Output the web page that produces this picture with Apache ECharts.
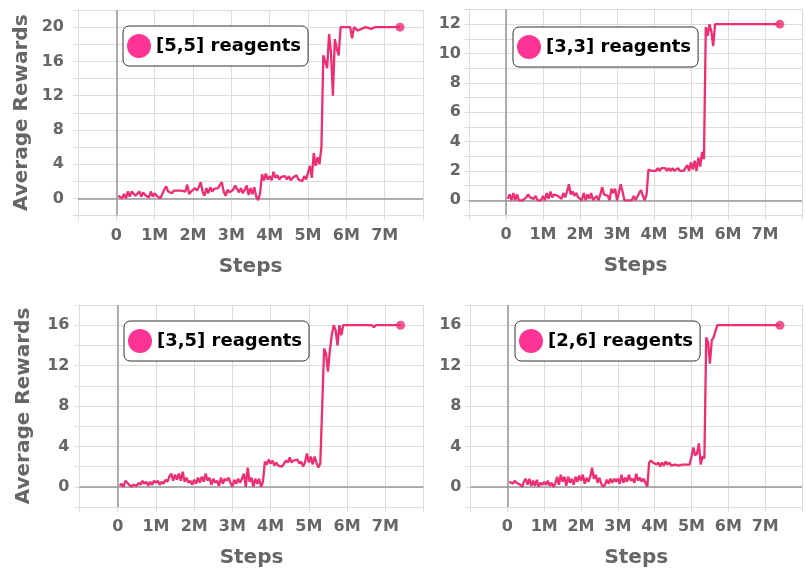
<!DOCTYPE html>
<html>
<head>
<meta charset="utf-8">
<script src="https://cdn.jsdelivr.net/npm/echarts@6/dist/echarts.min.js"></script>
<style>
html,body{margin:0;padding:0;background:#fff;}
#chart{width:805px;height:569px;}
</style>
</head>
<body>
<div id="chart"></div>
<script>
// Steps in millions (shared by all four runs)
var stepsM = [
  0.05,0.10,0.15,0.20,0.25,0.30,0.35,0.40,0.45,0.50,
  0.55,0.60,0.65,0.70,0.75,0.80,0.85,0.90,0.95,1.00,
  1.05,1.10,1.15,1.20,1.25,1.30,1.35,1.40,1.45,1.50,
  1.55,1.60,1.65,1.70,1.75,1.80,1.85,1.90,1.95,2.00,
  2.05,2.10,2.15,2.20,2.25,2.30,2.35,2.40,2.45,2.50,
  2.55,2.60,2.65,2.70,2.75,2.80,2.85,2.90,2.95,3.00,
  3.05,3.10,3.15,3.20,3.25,3.30,3.35,3.40,3.45,3.50,
  3.55,3.60,3.65,3.70,3.75,3.80,3.85,3.90,3.95,4.00,
  4.05,4.10,4.15,4.20,4.25,4.30,4.35,4.40,4.45,4.50,
  4.55,4.60,4.65,4.70,4.75,4.80,4.85,4.90,4.95,5.00,
  5.05,5.10,5.15,5.20,5.25,5.30,5.35,5.40,5.45,5.50,
  5.55,5.60,5.65,5.70,5.75,5.80,5.85,
  5.90,6.00,6.10,6.15,6.20,6.30,6.50,6.65,6.70,6.75,7.00,7.40
];

var rewards55 = [
  0.3,0.2,0.0,0.5,0.0,0.8,0.2,0.8,0.6,0.3,
  0.4,0.8,0.2,0.7,0.4,0.5,0.1,0.8,0.2,0.6,
  0.3,0.5,0.0,0.5,1.0,1.4,0.8,1.0,0.6,0.9,
  0.8,0.9,1.0,0.9,1.1,0.8,1.6,0.5,0.8,1.0,
  1.2,0.9,1.3,1.9,0.8,0.3,1.2,0.6,1.3,0.8,
  1.1,0.9,1.2,1.4,1.9,0.8,0.3,1.0,0.7,0.9,
  1.0,1.5,1.7,0.7,1.2,0.6,1.0,1.5,0.4,1.2,
  0.5,1.3,0.2,-0.2,0.6,2.8,2.1,2.9,2.2,2.6,
  2.1,3.1,2.4,2.7,2.2,2.5,2.4,2.6,2.2,2.6,
  2.1,2.4,2.2,2.7,2.2,2.4,2.0,2.6,2.2,2.4,
  3.8,2.4,5.3,3.8,4.8,4.0,6.0,16.7,16.0,15.2,
  19.2,17.0,12.0,18.6,17.5,16.7,20.0,
  20,20,20,18.7,20,19.6,20,19.8,20,20,20,20
];

var rewards33 = [
  0.1,0.4,0.0,0.5,0.0,0.4,0.0,0.0,0.0,0.0,
  0.2,0.4,0.2,0.3,0.1,0.3,0.0,0.1,0.0,0.3,
  0.0,0.5,0.1,0.6,0.2,0.4,0.4,0.3,0.4,0.1,
  0.5,0.2,0.6,1.1,0.4,0.6,0.3,0.5,0.2,0.3,
  0.0,0.5,0.0,0.4,0.1,0.5,0.0,0.1,0.3,0.0,
  0.4,0.9,0.4,0.4,0.3,0.0,0.8,0.5,0.8,0.0,
  0.5,1.1,0.6,0.0,0.1,0.0,0.1,0.0,0.3,0.0,
  0.0,0.5,0.7,0.3,0.0,0.4,2.1,2.0,2.0,2.0,
  2.0,2.2,2.0,2.2,2.1,2.2,2.0,2.2,2.0,2.2,
  2.0,2.0,2.2,2.0,2.0,2.0,2.0,2.4,2.0,2.6,
  2.1,2.7,2.0,2.9,2.3,3.3,2.8,11.8,11.2,12.0,
  11.5,10.5,12.0,12.0,12.0,12.0,12.0,
  12,12,12,12,12,12,12,12,12,12,12,12
];

var rewards35 = [
  0.1,0.3,0.0,0.6,0.4,0.2,0.0,0.2,0.2,0.1,
  0.4,0.2,0.6,0.3,0.5,0.1,0.5,0.2,0.6,0.4,
  0.6,0.2,0.5,0.3,0.7,0.5,1.0,1.3,0.6,1.2,
  0.7,1.3,0.6,1.5,0.5,0.9,0.4,0.6,0.2,0.7,
  0.3,0.9,0.4,1.0,0.5,1.3,0.6,0.9,0.2,0.8,
  0.4,0.6,0.1,0.9,0.3,0.8,0.6,0.9,0.4,0.0,
  0.7,0.3,0.8,0.4,0.8,1.3,0.0,1.9,0.5,0.9,
  0.0,0.8,0.3,0.8,0.0,0.5,2.5,2.2,2.7,2.3,
  2.6,2.1,2.4,2.1,2.2,2.0,2.3,2.6,2.4,2.9,
  2.4,2.6,2.5,2.7,2.3,2.5,2.0,2.4,3.3,2.4,
  3.0,2.2,3.0,2.4,1.9,2.3,2.2,13.7,13.2,11.4,
  13.5,15.0,16.0,15.5,14.0,16.0,15.0,
  16,16,16,16,16,16,16,16,15.8,16,16,16
];

var rewards26 = [
  0.5,0.6,0.3,0.6,0.4,0.5,0.2,0.0,0.5,0.8,
  0.2,0.8,0.1,0.6,0.1,0.7,0.0,0.4,0.2,0.5,
  0.2,0.6,0.1,0.4,0.0,0.3,1.0,0.2,1.2,0.5,
  1.0,0.1,1.0,0.4,0.8,0.2,1.0,0.5,1.1,0.6,
  1.2,0.3,0.9,0.5,1.0,1.9,0.8,1.2,0.4,0.9,
  0.3,0.0,0.2,0.7,0.3,0.8,0.4,0.8,0.5,0.8,
  0.3,1.2,0.4,0.9,0.5,1.2,0.6,0.8,0.4,1.3,
  0.6,0.9,0.5,0.8,0.8,0.0,2.4,2.6,2.4,2.5,
  2.2,2.4,2.0,2.4,2.1,2.5,2.2,2.4,2.1,2.2,
  2.2,2.2,2.1,2.2,2.2,2.2,2.2,2.1,2.2,3.0,
  3.9,3.1,3.3,4.3,2.2,3.0,2.8,14.8,14.3,12.2,
  14.5,14.8,14.8,16.0,16.0,16.0,16.0,
  16,16,16,16,16,16,16,16,16,16,16,16
];

var runNames = ['[5,5] reagents', '[3,3] reagents', '[3,5] reagents', '[2,6] reagents'];
var runRewards = [rewards55, rewards33, rewards35, rewards26];
var xTickLabels = ['0','1M','2M','3M','4M','5M','6M','7M'];

// y-axis ranges per panel
var yMin = [-2, -1, -2, -2];
var yMax = [22, 13, 18, 18];
var yStep = [2, 1, 2, 2];
var yLabelEvery = [4, 2, 4, 4];
var yLabelTop = [20, 12, 16, 16];

var FONT = 'DejaVu Sans';
var LINE_COLOR = '#ee2d73';
var DOT_COLOR = '#ff3596';
var GRID_COLOR = '#dcdcdc';
var TEXT_GRAY = '#666';

var grids = [
  {left: 78, top: 10, width: 345, height: 205.5},
  {left: 469, top: 9.5, width: 345, height: 205.5},
  {left: 79.5, top: 305, width: 344, height: 204},
  {left: 470.5, top: 305, width: 344, height: 204}
];
var legendPos = [
  {left: 123, top: 26},
  {left: 513, top: 27},
  {left: 124, top: 321},
  {left: 515, top: 321}
];
var yLabelMargin = [14, 8, 10, 9];

var xAxes = [], yAxes = [], series = [], legends = [];
for (var i = 0; i < 4; i++) {
  (function(i){
    xAxes.push({
      type: 'value', gridIndex: i, min: -1, max: 8, interval: 1,
      name: 'Steps', nameLocation: 'middle', nameGap: 41,
      nameTextStyle: {fontFamily: FONT, fontWeight: 'bold', fontSize: 20, color: TEXT_GRAY},
      axisLine: {show: true, onZero: false, lineStyle: {color: GRID_COLOR, width: 1}},
      axisTick: {show: true, length: 5, lineStyle: {color: GRID_COLOR}},
      splitLine: {show: true, lineStyle: {color: GRID_COLOR, width: 1}},
      axisLabel: {
        margin: 12, fontFamily: FONT, fontWeight: 'bold', fontSize: 16, color: TEXT_GRAY,
        showMinLabel: true, showMaxLabel: true,
        formatter: function(v){ return (v >= 0 && v < xTickLabels.length) ? xTickLabels[v] : ''; }
      }
    });
    var yAx = {
      type: 'value', gridIndex: i, min: yMin[i], max: yMax[i], interval: yStep[i],
      axisLine: {show: true, onZero: false, lineStyle: {color: GRID_COLOR, width: 1}},
      axisTick: {show: true, length: 5, lineStyle: {color: GRID_COLOR}},
      splitLine: {show: true, lineStyle: {color: GRID_COLOR, width: 1}},
      axisLabel: {
        margin: yLabelMargin[i], fontFamily: FONT, fontWeight: 'bold', fontSize: 16, color: TEXT_GRAY,
        formatter: function(v){
          return (v >= 0 && v <= yLabelTop[i] && Math.abs(v % yLabelEvery[i]) < 1e-9) ? String(v) : '';
        }
      }
    };
    if (i === 0 || i === 2) {
      yAx.name = 'Average Rewards';
      yAx.nameLocation = 'middle';
      yAx.nameGap = 46;
      yAx.nameTextStyle = {fontFamily: FONT, fontWeight: 'bold', fontSize: 20, color: TEXT_GRAY};
    }
    yAxes.push(yAx);

    var rw = runRewards[i];
    var data = stepsM.map(function(s, k){ return [s, rw[k]]; });
    var last = data[data.length - 1];

    series.push({
      name: runNames[i], type: 'line', xAxisIndex: i, yAxisIndex: i,
      data: data, showSymbol: false, symbol: 'none', z: 3,
      itemStyle: {color: DOT_COLOR},
      lineStyle: {color: LINE_COLOR, width: 2.3},
      animation: false
    });
    series.push({
      name: runNames[i] + ' end', type: 'scatter', xAxisIndex: i, yAxisIndex: i,
      data: [last], symbol: 'circle', symbolSize: 9, z: 2,
      itemStyle: {color: LINE_COLOR},
      markLine: {
        silent: true, symbol: 'none', z: 1, animation: false,
        label: {show: false},
        lineStyle: {color: '#999', width: 1.5, type: 'solid'},
        data: [{yAxis: 0}, {xAxis: 0}]
      },
      animation: false
    });
    legends.push({
      data: [runNames[i]],
      left: legendPos[i].left, top: legendPos[i].top,
      orient: 'horizontal', selectedMode: false,
      icon: 'circle', itemWidth: 24, itemHeight: 24,
      backgroundColor: '#fff', borderColor: '#333', borderWidth: 1, borderRadius: 6,
      padding: [8, 7, 8, 4],
      textStyle: {fontFamily: FONT, fontWeight: 'bold', fontSize: 18, color: '#000'}
    });
  })(i);
}

var chart = echarts.init(document.getElementById('chart'), null, {renderer: 'canvas'});
chart.setOption({
  animation: false,
  backgroundColor: '#fff',
  grid: grids,
  xAxis: xAxes,
  yAxis: yAxes,
  legend: legends,
  series: series
});
</script>
</body>
</html>
